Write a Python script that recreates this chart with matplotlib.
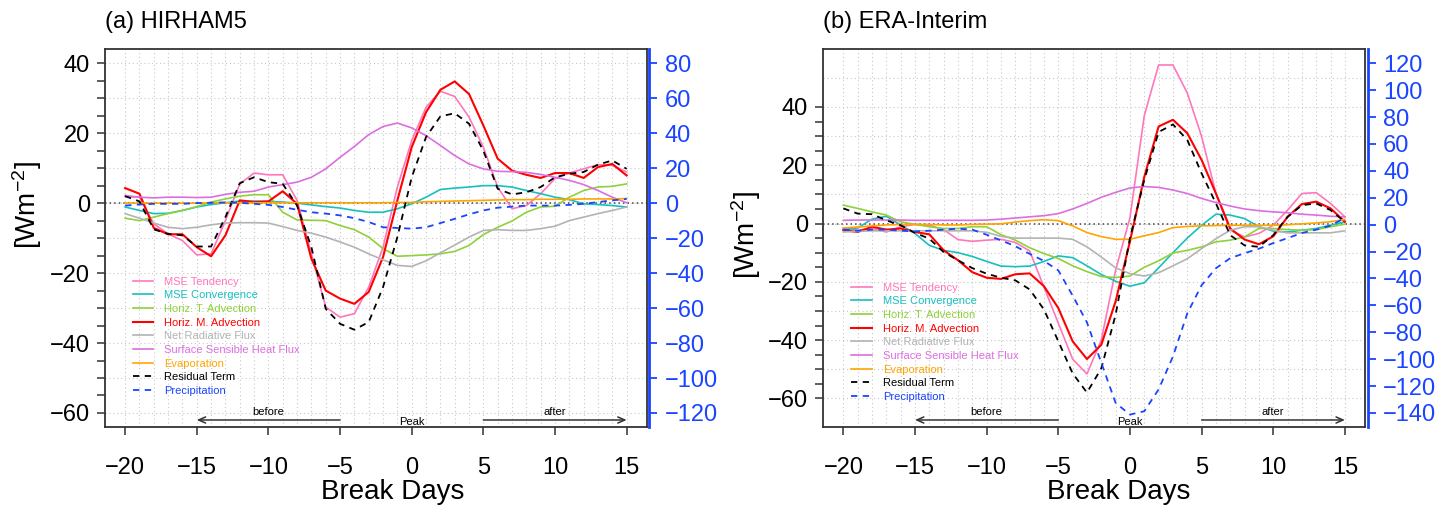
import matplotlib
matplotlib.use("Agg")
import matplotlib.pyplot as plt
import matplotlib.transforms as mtransforms
import numpy as np

plt.rcParams['font.family'] = ['Liberation Sans', 'DejaVu Sans']
plt.rcParams['mathtext.fontset'] = 'custom'
plt.rcParams['mathtext.rm'] = 'Liberation Sans'
plt.rcParams['mathtext.it'] = 'Liberation Sans:italic'

# break days (composite days relative to the break peak)
days = np.arange(-20, 16)

# ---- (a) HIRHAM5, left axis [Wm-2] ----
mse_tend_a = [2.2, 1.7, -5.9, -8.8, -10.7, -14.8, -14.5, -5, 5.5, 8.6, 8.1, 8.1, 0.8, -14.5, -29.7, -32.6,
              -31.6, -24, -12.6, 4.6, 17.9, 27.4, 32, 30.5, 24.6, 16, 4.6, -1.6, -0.7, 2.7, 7, 8.6, 9.8, 11, 10.8, 8.9]
mse_conv_a = [-1.1, -2.1, -3, -2.9, -2.1, -1.1, -0.4, 0.1, 0.6, 0.6, 0.5, 0.3, 0, -0.5, -1, -1.4, -2.1, -2.6,
              -2.6, -1.6, -0.2, 1.7, 3.9, 4.3, 4.6, 5, 5, 4.6, 3.6, 2.7, 1.7, 1, -0.2, -0.4, -0.7, -1.1]
t_adv_a = [-4.3, -5, -4, -3, -2.1, -1, 0.3, 1.2, 2, 2.4, 2.4, -2.6, -4.8, -4.9, -5, -6.4, -7.6, -9.7, -13,
           -15.2, -15, -14.8, -14.5, -13.8, -12.1, -9, -6.9, -5.1, -2.6, -1.1, -0.9, 1.7, 3.6, 4.6, 4.8, 5.5]
m_adv_a = [4.3, 2.7, -7.1, -8.9, -8.9, -12.6, -15.2, -9.2, 0.8, 0.3, 0.5, 3.4, -0.2, -15.9, -25, -27.3, -28.8,
           -25.4, -15.4, 0.8, 16, 26, 32.4, 34.8, 31.2, 22.2, 12.7, 9.3, 8.1, 7.2, 8.6, 8.6, 7.2, 10.3, 11.2, 7.9]
rad_a = [-3, -4.3, -5.7, -6.9, -7.3, -6.9, -6.2, -5.7, -5.6, -5.6, -5.7, -6.7, -7.8, -8.6, -9.7, -11.1, -12.6,
         -14.5, -16.2, -17.8, -18.1, -16.5, -14.2, -12, -9.7, -7.8, -7.6, -7.8, -7.8, -7.3, -6.6, -5, -4, -3, -2.1, -1.1]
shf_a = [1.9, 1.7, 1.5, 1.7, 1.7, 1.6, 1.7, 2.5, 3.1, 3.4, 4.6, 5.3, 6, 7.4, 9.8, 13.1, 16.2, 19.6, 21.9, 22.9,
         21.5, 19.3, 16.5, 13.6, 11.2, 9.8, 9.1, 9, 8.8, 8.2, 7.4, 6.5, 5.3, 3.6, 1.7, 0.1]
evap_a = [0, 0, 0, 0, 0, 0, 0.1, 0.1, 0.1, 0.1, 0.1, 0.1, 0.1, 0.1, 0.1, 0.1, 0.1, 0.1, 0.1, 0.2, 0.2, 0.4,
          0.5, 0.6, 0.7, 0.8, 0.9, 1, 1, 1.1, 1.1, 1.1, 1.2, 1.2, 1.2, 1.3]
resid_a = [2, 0.5, -7.5, -8.8, -9.2, -12.4, -12.4, -4, 5.7, 7.4, 6, 5.5, -0.7, -12.6, -30.2, -34.5, -36.2, -34,
           -24, -9.7, 7.4, 18.9, 24.8, 25.7, 22.7, 15, 4.1, 2.5, 3.1, 4.6, 7.4, 8.4, 8.9, 11, 12.2, 9.8]
# right axis
precip_a = [-1.4, -0.8, -0.4, -0.4, -0.4, 0, 0.2, 0.4, 0.2, -0.4, -1, -2.2, -3.8, -5.2, -6, -7, -8.6, -10.8,
            -13.8, -14.2, -14.6, -13.8, -11.4, -9, -6.4, -4.2, -2.6, -2, -1.4, -1.4, -1.4, -1, -0.4, 0.6, 1.6, 2.4]

# ---- (b) ERA-Interim ----
mse_tend_b = [-1.7, -2.3, -1.7, -2.9, -1.1, -0.3, -0.6, -2.1, -5.5, -6.1, -5.7, -5.4, -6.5, -9.4, -21.8, -34.2,
              -46.5, -51.6, -40, -16, 2, 37, 54.4, 54.4, 44.8, 29.9, 10.3, -2.3, -4.6, -3.4, -0.6, 4.6, 10.3, 10.6, 6.9, 2.3]
mse_conv_b = [-2.1, -1.5, 1.5, 2.5, -0.5, -3.4, -7.5, -9.2, -10, -11.3, -13, -14.6, -14.8, -14.6, -13, -11.1,
              -11.7, -14.5, -17.5, -19.8, -21.5, -20.3, -15.2, -10, -5, -0.6, 3.2, 2.9, 1.7, -1.1, -2.6, -2.9, -2.3, -1.7, -0.6, 0.6]
t_adv_b = [6.3, 5.2, 4, 2.9, 0.6, -0.3, -1.1, -1.7, -1.7, -1.1, -1.1, -3.8, -5.7, -8.3, -10.3, -12, -14.5, -16.5,
           -18.2, -18.5, -18, -15, -12.8, -10.1, -9.2, -8, -6.3, -5.7, -4.6, -1.7, -1.7, -2.1, -2.3, -2.1, -1.1, -0.2]
m_adv_b = [-2.3, -2.9, -1.1, -2.1, -1.7, -2.9, -3.7, -9.2, -12.6, -16.7, -18.6, -19, -17.4, -17.1, -21.5, -29,
           -40.4, -46.5, -41.6, -26.7, -6.1, 16, 33.3, 35.6, 31, 21.8, 10.3, -1.7, -5.5, -7.1, -4.4, 2.3, 6.7, 7.5, 5.2, 0.6]
rad_b = [-2.9, -2.7, -2.5, -2.5, -2.5, -2.5, -2.5, -2.5, -2.5, -2.5, -3, -4.4, -5, -5, -5, -5, -5.4, -8, -11.5,
         -15.2, -17.2, -18, -16.9, -14.5, -12.1, -8.6, -5.2, -2.3, -1.1, -1.1, -2.3, -3.2, -3.2, -3.2, -3.2, -2.5]
shf_b = [1.1, 1.2, 1.2, 1.2, 1.2, 1.1, 1.1, 1.1, 1.1, 1.1, 1.2, 1.5, 1.9, 2.3, 2.7, 3.4, 5, 6.9, 9, 10.7, 12.2,
         12.7, 12.4, 11.5, 10.3, 8.6, 7.2, 6, 5, 4.4, 4, 3.7, 3.2, 2.9, 2.5, 2.3]
evap_b = [-1.5, -1.2, -0.8, -0.5, -0.3, -0.3, -0.3, -0.5, -0.5, -0.3, -0.2, -0.1, 0.5, 1, 1.3, 1, -0.8, -3.1,
          -4.5, -5.4, -5.4, -4.2, -3.1, -1.4, -1, -0.8, -0.7, -0.6, -0.6, -0.6, -0.6, -0.4, -0.1, 0.2, 0.6, 1.4]
resid_b = [5.2, 3.4, 3.2, 1.1, -0.6, -3.2, -5.2, -9.8, -12.6, -15.3, -17.2, -18.6, -19.5, -22.6, -29.5, -40.4,
           -51.4, -58, -49.7, -31.3, -5, 15, 31.4, 34, 28.7, 17.2, 6.9, -4, -7.5, -8, -4, 2.3, 6.3, 6.9, 4.6, 0.6]
precip_b = [-3.7, -4.5, -3.7, -3.7, -4.5, -5, -4.5, -3.7, -3, -3.7, -7.5, -11.7, -16, -21.7, -27, -34, -52.7,
            -72.7, -102.6, -132.5, -141.2, -138.7, -122.5, -98, -66, -45, -32.4, -24.9, -21.2, -17.9, -13.7, -10,
            -6.2, -3.7, -0.7, 5]

labels = ["MSE Tendency", "MSE Convergence", "Horiz. T. Advection", "Horiz. M. Advection",
          "Net Radiative Flux", "Surface Sensible Heat Flux", "Evaporation", "Residual Term"]
colors = ["#ff77bb", "#17bfbf", "#8fd13a", "#ff0000", "#b3b3b3", "#dd6ee0", "#ffa500", "#000000"]
widths = [1.2, 1.2, 1.2, 1.5, 1.2, 1.2, 1.2, 1.3]
blue = "#1a44ff"
box_col = "#333333"

fig = plt.figure(figsize=(14.51, 5.05), dpi=100)


def panel(left, title, series, precip, lylim, lticks, rylim, rticks, hlines,
          ylab_y, xlab_x, leg_xy):
    ax = fig.add_axes([left, 0.1545, 0.3733, 0.748])
    ax2 = ax.twinx()

    # grid
    ax.set_xticks(days, minor=True)
    ax.grid(axis='x', which='both', color='#c8c8c8', ls=(0, (1, 2.5)), lw=0.8)
    for h in hlines:
        ax.axhline(h, color='#c8c8c8', ls=(0, (1, 2.5)), lw=0.8, zorder=0.5)
    ax.axhline(0, color='#444444', ls=(0, (1, 2)), lw=1.1, zorder=1)

    handles = []
    for vals, lab, c, w in zip(series, labels, colors, widths):
        if lab == "Residual Term":
            ln, = ax.plot(days, vals, color=c, lw=w, dashes=(3.5, 3), label=lab)
        else:
            ln, = ax.plot(days, vals, color=c, lw=w, label=lab)
        handles.append(ln)
    ln, = ax2.plot(days, precip, color=blue, lw=1.3, dashes=(3.5, 3), label="Precipitation")
    handles.append(ln)

    ax.set_xlim(-21.4, 16.4)
    ax.set_ylim(*lylim)
    ax2.set_ylim(*rylim)
    ax.set_xticks(np.arange(-20, 16, 5))
    ax.set_yticks(lticks)
    ax.set_yticks(np.arange(lticks[0] - 5 * (lticks[0] % 20 != 0), lticks[-1] + 1, 5), minor=True)
    ax2.set_yticks(rticks)

    ax.tick_params(axis='x', which='major', length=6, width=1.1, pad=15.5, labelsize=17, color=box_col)
    ax.tick_params(axis='x', which='minor', length=0)
    ax.tick_params(axis='y', which='both', length=6, width=1.1, pad=5, labelsize=17, color=box_col)
    ax2.tick_params(axis='y', length=6, width=1.3, pad=5, labelsize=17, color=blue, labelcolor=blue)

    for s in ax.spines.values():
        s.set_color(box_col)
        s.set_linewidth(1.3)
    for s in ['top', 'left', 'bottom']:
        ax2.spines[s].set_visible(False)
    ax2.spines['right'].set_color(blue)
    ax2.spines['right'].set_linewidth(2)
    ax2.spines['right'].set_position(('outward', 2))

    # period arrows
    tr = mtransforms.blended_transform_factory(ax.transData, ax.transAxes)
    arr = dict(arrowstyle='->,head_length=0.5,head_width=0.22', color=box_col, lw=1.1, shrinkA=0, shrinkB=0)
    ax.annotate('', xy=(-15, 0.0185), xytext=(-5, 0.0185), xycoords=tr, textcoords=tr, arrowprops=arr)
    ax.annotate('', xy=(15, 0.0185), xytext=(5, 0.0185), xycoords=tr, textcoords=tr, arrowprops=arr)
    ax.text(-10, 0.04, "before", transform=tr, ha='center', va='center', fontsize=8)
    ax.text(10, 0.04, "after", transform=tr, ha='center', va='center', fontsize=8)
    ax.text(0, 0.012, "Peak", transform=tr, ha='center', va='center', fontsize=8)

    ax.text(0, 1.072, title, transform=ax.transAxes, ha='left', va='center', fontsize=17)
    ax.text(-0.143, ylab_y, "[Wm$^{-2}$]", transform=ax.transAxes, rotation=90,
            ha='center', va='center', fontsize=20)
    ax.text(xlab_x, -0.172, "Break Days", transform=ax.transAxes, ha='center', va='center', fontsize=20)

    ax2.legend(handles=handles, loc='upper left', bbox_to_anchor=leg_xy, frameon=False,
               fontsize=8, labelcolor='linecolor', handlelength=1.85, handletextpad=1.0,
               labelspacing=0.33, borderpad=0, borderaxespad=0)
    return ax


panel(0.0724, "(a) HIRHAM5",
      [mse_tend_a, mse_conv_a, t_adv_a, m_adv_a, rad_a, shf_a, evap_a, resid_a], precip_a,
      (-64, 44), np.arange(-60, 41, 20), (-128, 88), np.arange(-120, 81, 20),
      np.arange(-60, 41, 10), 0.588, 0.531, (0.051, 0.398))

panel(0.5674, "(b) ERA-Interim",
      [mse_tend_b, mse_conv_b, t_adv_b, m_adv_b, rad_b, shf_b, evap_b, resid_b], precip_b,
      (-69.8, 59.8), np.arange(-60, 41, 20), (-150.4, 130.4), np.arange(-140, 121, 20),
      np.arange(-60, 51, 10), 0.508, 0.546, (0.052, 0.382))

fig.savefig("out.png", dpi=100)
